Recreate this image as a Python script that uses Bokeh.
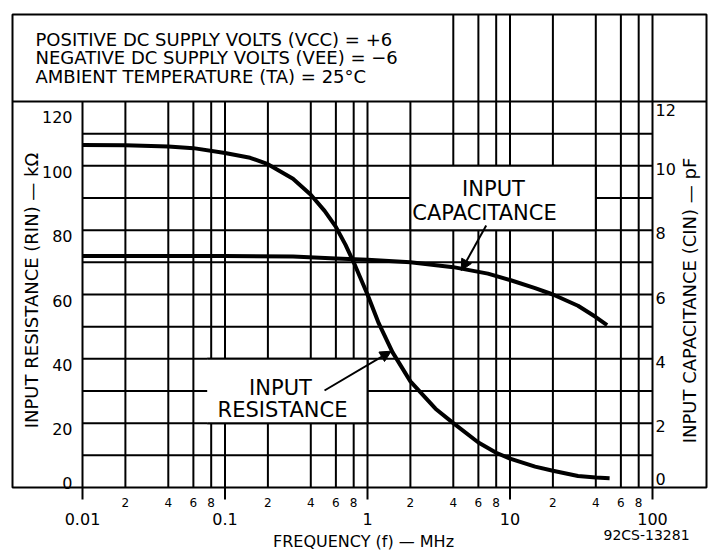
import math
from bokeh.plotting import figure
from bokeh.models import Arrow, NormalHead, Range1d
from bokeh.core.properties import value
from bokeh.embed import file_html
from bokeh.resources import INLINE

# ---------------- data ----------------
freq_res_mhz = [0.01, 0.02, 0.04, 0.06, 0.1, 0.15, 0.2, 0.3, 0.4, 0.5, 0.6, 0.7,
                0.8, 1.0, 1.2, 1.5, 2.0, 3.0, 4.0, 6.0, 8.0, 10, 15, 20, 30, 40, 50]
r_in_kohm = [106.5, 106.4, 106.0, 105.5, 104.0, 102.5, 100.5, 96.0, 91.0, 86.0, 81.0, 75.5,
             70.0, 60.0, 51.0, 42.0, 33.0, 24.5, 20.0, 14.0, 10.8, 9.0, 6.5, 5.2, 3.6, 3.1, 2.9]

freq_cap_mhz = [0.01, 0.1, 0.3, 0.6, 1, 2, 4, 7, 10, 15, 20, 30, 40, 48]
c_in_pf = [7.2, 7.2, 7.18, 7.12, 7.08, 7.0, 6.85, 6.65, 6.45, 6.2, 6.0, 5.65, 5.3, 5.05]

x_major = [0.01, 0.1, 1, 10, 100]
x_major_labels = ["0.01", "0.1", "1", "10", "100"]
x_minor = [0.02, 0.04, 0.06, 0.08, 0.2, 0.4, 0.6, 0.8, 2, 4, 6, 8, 20, 40, 60, 80]
x_minor_labels = ["2", "4", "6", "8"] * 4
r_ticks = [0, 20, 40, 60, 80, 100, 120]
r_grid = [10, 20, 30, 40, 50, 60, 70, 80, 90, 100, 110]
c_ticks = [0, 2, 4, 6, 8, 10, 12]

header_lines = ["POSITIVE DC SUPPLY VOLTS (VCC) = +6",
                "NEGATIVE DC SUPPLY VOLTS (VEE) = \u22126",
                "AMBIENT TEMPERATURE (TA) = 25\u00b0C"]
res_axis_label = "INPUT RESISTANCE (RIN) \u2014 k\u03a9"
cap_axis_label = "INPUT CAPACITANCE (CIN) \u2014 pF"
freq_axis_label = "FREQUENCY (f) \u2014 MHz"
drawing_no = "92CS-13281"

# ---------------- layout (reference-image pixels -> data space) ----------------
FONT = "DejaVu Sans"
W, H = 715, 553          # canvas = frame
ORIGIN = 0               # canvas origin in the picture
ONE_MHZ_IMG = 367.0      # image x of 1 MHz
DECADE_PX = 142.5
ZERO_IMG = 487.0         # image y of 0 kOhm
PX_PER_KOHM = 386.0 / 120.0
HEADER_GRID_FROM = 4


def img_x(px):
    return 10 ** ((px - ONE_MHZ_IMG) / DECADE_PX)


def img_y(py):
    return (ZERO_IMG - py) / PX_PER_KOHM


x_lo, x_hi = img_x(ORIGIN), img_x(ORIGIN + W)
y_hi, y_lo = img_y(ORIGIN), img_y(ORIGIN + H)
box_x0, box_x1, box_top = img_x(12), img_x(706), img_y(14)
r_max = max(r_ticks)
c_scale = max(c_ticks) / r_max

p = figure(frame_width=W, frame_height=H, x_axis_type="log",
           x_range=Range1d(x_lo, x_hi), y_range=Range1d(y_lo, y_hi),
           x_axis_location=None, y_axis_location=None,
           output_backend="svg", toolbar_location=None,
           min_border_left=0, min_border_right=0, min_border_top=0, min_border_bottom=0)
p.extra_y_ranges = {"cap": Range1d(y_lo * c_scale, y_hi * c_scale)}
p.grid.visible = False
p.outline_line_color = None
p.background_fill_color = "white"
p.border_fill_color = "white"

LW = 2
K = dict(line_color="black", line_width=LW)

# vertical grid (those from 4 MHz up run through the header)
x_grid = sorted(x_major + x_minor)
p.segment(x0=x_grid, y0=[0] * len(x_grid), x1=x_grid,
          y1=[box_top if v >= HEADER_GRID_FROM else r_max for v in x_grid], **K)
# horizontal grid
p.segment(x0=[x_major[0]] * len(r_grid), y0=r_grid, x1=[x_major[-1]] * len(r_grid), y1=r_grid, **K)
p.segment(x0=[box_x0], y0=[r_max], x1=[box_x1], y1=[r_max], **K)
# outer box
p.quad(left=[box_x0], right=[box_x1], bottom=[0], top=[box_top], fill_color=None, **K)
# major tick marks below the box
p.segment(x0=x_major, y0=[0] * len(x_major), x1=x_major,
          y1=[img_y(ZERO_IMG + 12)] * len(x_major), **K)

# white label boxes
p.quad(left=[2], right=[40], bottom=[80], top=[100], fill_color="white", **K)
p.quad(left=[0.075], right=[1], bottom=[20], top=[40], fill_color="white", line_color=None)
p.segment(x0=[0.075, 0.075, 1], y0=[20, 40, 20], x1=[1, 1, 1], y1=[20, 40, 40], **K)

# curves
p.line(freq_res_mhz, r_in_kohm, line_color="black", line_width=4, line_join="round")
p.line(freq_cap_mhz, c_in_pf, y_range_name="cap", line_color="black", line_width=4,
       line_join="round")

# arrows
for (tx, ty), (hx, hy) in [((485.7, 225), (460.7, 270)), ((324, 390), (390.7, 350.7))]:
    p.add_layout(Arrow(end=NormalHead(size=11, fill_color="black", line_color="black"),
                       x_start=img_x(tx), y_start=img_y(ty), x_end=img_x(hx), y_end=img_y(hy),
                       line_color="black", line_width=2))

txt = dict(text_font=value(FONT), text_color="black", text_baseline="middle")

# header text
p.text(x=[img_x(35)] * 3, y=[img_y(v) for v in (38.5, 57, 75.5)], text=header_lines,
       text_font_size="18px", text_align="left", **txt)

# left tick labels (inside the box)
p.text(x=[img_x(72)] * len(r_ticks), y=r_ticks, text=[str(v) for v in r_ticks],
       y_offset=[15 if v == r_max else (-5 if v == 0 else 6) for v in r_ticks],
       text_font_size="16px", text_align="right", **txt)
# right tick labels
p.text(x=[img_x(655)] * len(c_ticks), y=c_ticks, y_range_name="cap",
       text=[str(v) for v in c_ticks],
       y_offset=[8 if v == max(c_ticks) else (-9 if v == 0 else 3) for v in c_ticks],
       text_font_size="16px", text_align="left", **txt)

# vertical axis titles
p.text(x=[img_x(31)], y=[img_y(290)], text=[res_axis_label], angle=math.pi / 2,
       text_font_size="18px", text_align="center", **txt)
p.text(x=[img_x(689)], y=[img_y(300)], text=[cap_axis_label], angle=math.pi / 2,
       text_font_size="18px", text_align="center", **txt)

# curve annotations
p.text(x=[img_x(493), img_x(484)], y=[img_y(188), img_y(212)], text=["INPUT", "CAPACITANCE"],
       text_font_size="21px", text_align="center", **txt)
p.text(x=[img_x(280), img_x(282)], y=[img_y(387), img_y(409.5)], text=["INPUT", "RESISTANCE"],
       text_font_size="21px", text_align="center", **txt)

# frequency axis labels
p.text(x=x_minor, y=[img_y(502)] * len(x_minor), text=x_minor_labels,
       text_font_size="12px", text_align="center", **txt)
p.text(x=x_major, y=[img_y(518)] * len(x_major), text=x_major_labels,
       text_font_size="16px", text_align="center", **txt)
p.text(x=[img_x(363)], y=[img_y(541)], text=[freq_axis_label],
       text_font_size="16px", text_align="center", **txt)
p.text(x=[img_x(603)], y=[img_y(534)], text=[drawing_no],
       text_font_size="14px", text_align="left", **txt)

open("out.html", "w").write(file_html(p, INLINE))
